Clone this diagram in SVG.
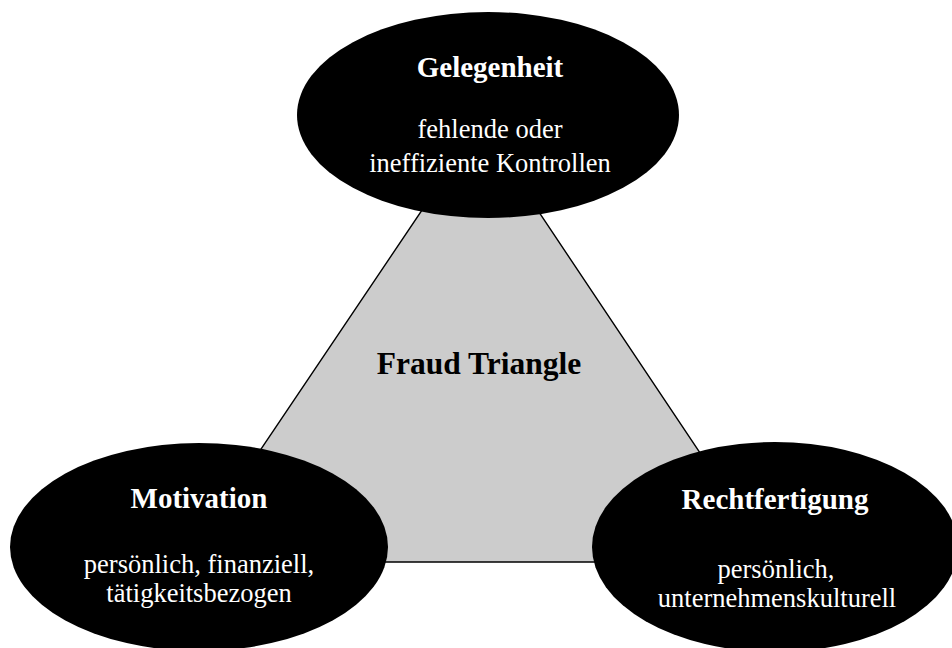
<svg xmlns="http://www.w3.org/2000/svg" width="952" height="648" viewBox="0 0 952 648">
  <style>
    .node { fill: #000000; }
    .title { font-family: "Liberation Serif", "Times New Roman", serif; font-weight: bold; font-size: 29px; fill: #ffffff; text-anchor: middle; }
    .desc { font-family: "Liberation Serif", "Times New Roman", serif; font-size: 26.5px; fill: #ffffff; text-anchor: middle; }
    .center { font-family: "Liberation Serif", "Times New Roman", serif; font-weight: bold; font-size: 31.5px; fill: #000000; text-anchor: middle; }
  </style>
  <rect width="952" height="648" fill="#ffffff"/>

  <!-- central triangle -->
  <g id="triangle">
    <polygon points="480,124 185,562 773,562" fill="#cccccc" stroke="#000000" stroke-width="1.4" stroke-linejoin="miter"/>
    <text class="center" x="479" y="374">Fraud Triangle</text>
  </g>

  <g id="connectors"></g>

  <g id="gelegenheit">
    <ellipse class="node" cx="488" cy="115" rx="191" ry="103"/>
    <text class="title" x="490" y="77">Gelegenheit</text>
    <text class="desc" x="490" y="138">fehlende oder</text>
    <text class="desc" x="490" y="171.5">ineffiziente Kontrollen</text>
  </g>

  <g id="motivation">
    <ellipse class="node" cx="199" cy="547" rx="189" ry="104"/>
    <text class="title" x="199" y="508">Motivation</text>
    <text class="desc" x="199" y="573">persönlich, finanziell,</text>
    <text class="desc" x="199" y="601.5">tätigkeitsbezogen</text>
  </g>

  <g id="rechtfertigung">
    <ellipse class="node" cx="775" cy="547" rx="183" ry="105"/>
    <text class="title" x="775" y="509">Rechtfertigung</text>
    <text class="desc" x="776" y="578">persönlich,</text>
    <text class="desc" x="777" y="606.5">unternehmenskulturell</text>
  </g>
</svg>
